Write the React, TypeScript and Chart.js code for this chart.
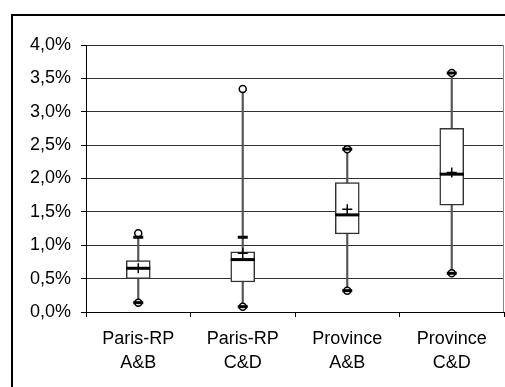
import React, { useEffect, useRef } from "react";
import { Chart, registerables } from "chart.js";

Chart.register(...registerables);

const categories: string[][] = [
  ["Paris-RP", "A&B"],
  ["Paris-RP", "C&D"],
  ["Province", "A&B"],
  ["Province", "C&D"],
];
const q1 = [0.5, 0.45, 1.17, 1.6];
const q3 = [0.77, 0.9, 1.94, 2.75];
const median = [0.655, 0.785, 1.455, 2.065];
const mean = [0.655, 0.88, 1.54, 2.09];
const whiskerHigh = [1.12, 1.12, 2.44, 3.58];
const whiskerLow = [0.14, 0.08, 0.32, 0.58];
const maxVal = [1.18, 3.34, 2.44, 3.58];
const minVal = [0.14, 0.08, 0.32, 0.58];
const yTicks = [0, 0.5, 1, 1.5, 2, 2.5, 3, 3.5, 4];

const FONT = "'Liberation Sans', Arial, sans-serif";

const framePlugin = {
  id: "frame",
  afterDraw(chart: any) {
    const { ctx, chartArea } = chart;
    ctx.save();
    ctx.strokeStyle = "#888";
    ctx.lineWidth = 1;
    ctx.beginPath();
    ctx.moveTo(chartArea.right - 0.5, chartArea.top);
    ctx.lineTo(chartArea.right - 0.5, chartArea.bottom);
    ctx.stroke();
    ctx.restore();
  },
};

export default function App() {
  const ref = useRef<HTMLCanvasElement | null>(null);

  useEffect(() => {
    if (!ref.current) return;
    const chart = new Chart(ref.current, {
      type: "bar",
      data: {
        labels: categories,
        datasets: [
          {
            type: "bar",
            label: "whisker",
            data: minVal.map((v, i) => [v, maxVal[i]]),
            backgroundColor: "#555",
            borderWidth: 0,
            barThickness: 1.5,
            grouped: false,
            order: 6,
          } as any,
          {
            type: "bar",
            label: "box",
            data: q1.map((v, i) => [v, q3[i]]),
            backgroundColor: "#fff",
            borderColor: "#333",
            borderWidth: 1.5,
            borderSkipped: false,
            barThickness: 24,
            grouped: false,
            order: 5,
          } as any,
          {
            type: "line",
            label: "median",
            data: median,
            showLine: false,
            pointStyle: "line",
            pointRadius: 12,
            pointBorderWidth: 3,
            pointBorderColor: "#000",
            order: 4,
          } as any,
          {
            type: "line",
            label: "mean",
            data: mean,
            showLine: false,
            pointStyle: "cross",
            pointRadius: 5,
            pointBorderWidth: 1.5,
            pointBorderColor: "#000",
            order: 3,
          } as any,
          {
            type: "line",
            label: "max",
            data: maxVal,
            showLine: false,
            pointStyle: "circle",
            pointRadius: 3.5,
            pointBorderWidth: 1.5,
            pointBorderColor: "#000",
            pointBackgroundColor: "#fff",
            order: 2,
          } as any,
          {
            type: "line",
            label: "min",
            data: minVal,
            showLine: false,
            pointStyle: "circle",
            pointRadius: 3.5,
            pointBorderWidth: 1.5,
            pointBorderColor: "#000",
            pointBackgroundColor: "#fff",
            order: 2,
          } as any,
          {
            type: "line",
            label: "capHigh",
            data: whiskerHigh,
            showLine: false,
            pointStyle: "line",
            pointRadius: 5,
            pointBorderWidth: 3,
            pointBorderColor: "#000",
            order: 1,
          } as any,
          {
            type: "line",
            label: "capLow",
            data: whiskerLow,
            showLine: false,
            pointStyle: "line",
            pointRadius: 5,
            pointBorderWidth: 3,
            pointBorderColor: "#000",
            order: 1,
          } as any,
        ],
      },
      options: {
        responsive: false,
        animation: false,
        devicePixelRatio: 1,
        layout: { autoPadding: false, padding: { top: 45, right: 1, left: 0, bottom: 0 } },
        plugins: { legend: { display: false }, tooltip: { enabled: false } },
        scales: {
          x: {
            type: "category",
            offset: true,
            afterFit: (s: any) => {
              s.height = 75;
              s.paddingLeft = 0;
              s.paddingRight = 0;
            },
            grid: {
              offset: true,
              drawOnChartArea: false,
              drawTicks: true,
              tickLength: 5,
              color: "#000",
            },
            border: { display: true, color: "#000", width: 1 },
            ticks: {
              color: "#000",
              padding: 10,
              maxRotation: 0,
              autoSkip: false,
              font: { family: FONT, size: 18, lineHeight: 1.33 },
            },
          },
          y: {
            min: yTicks[0],
            max: yTicks[yTicks.length - 1],
            afterFit: (s: any) => {
              s.width = 86;
              s.paddingTop = 0;
              s.paddingBottom = 0;
            },
            afterBuildTicks: (s: any) => {
              s.ticks = yTicks.map((v) => ({ value: v }));
            },
            grid: {
              color: "#333",
              lineWidth: 1,
              drawTicks: true,
              tickLength: 5,
              tickColor: "#000",
            },
            border: { display: true, color: "#000", width: 1 },
            ticks: {
              color: "#000",
              padding: 10,
              font: { family: FONT, size: 18 },
              callback: (v: any) => Number(v).toFixed(1).replace(".", ",") + "%",
            },
          },
        },
      },
      plugins: [framePlugin],
    } as any);
    return () => chart.destroy();
  }, []);

  return (
    <div
      style={{
        position: "fixed",
        left: 0,
        top: 0,
        width: 505,
        height: 387,
        overflow: "hidden",
        background: "#fff",
      }}
    >
      <div
        style={{
          position: "absolute",
          left: 11,
          top: 14,
          width: 600,
          height: 500,
          border: "2px solid #000",
        }}
      />
      <canvas
        ref={ref}
        width={505}
        height={387}
        style={{ position: "absolute", left: 0, top: 0, width: 505, height: 387 }}
      />
    </div>
  );
}
